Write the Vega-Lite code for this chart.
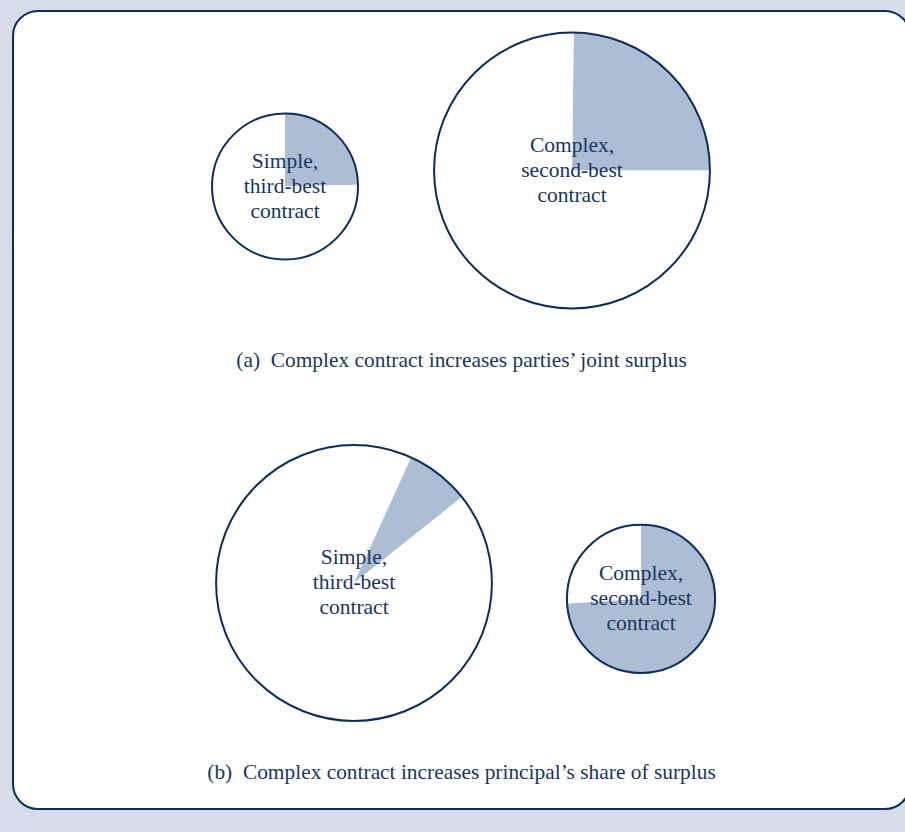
{
  "$schema": "https://vega.github.io/schema/vega-lite/v6.json",
  "width": 897,
  "height": 798,
  "autosize": {"type": "none"},
  "padding": {"left": 13, "top": 11, "right": -5, "bottom": 23},
  "background": "#d6dde9",
  "config": {
    "view": {"fill": "#ffffff", "stroke": "#0c2e5a", "strokeWidth": 2, "cornerRadius": 25},
    "font": "Liberation Serif"
  },
  "datasets": {
    "slices": [
      {"panel": "a", "contract": "Simple", "surplus": 1.0, "share": "principal", "start": 0, "end": 24.6},
      {"panel": "a", "contract": "Simple", "surplus": 1.0, "share": "agent", "start": 24.6, "end": 100},
      {"panel": "a", "contract": "Complex", "surplus": 3.57, "share": "principal", "start": 0.2, "end": 25},
      {"panel": "a", "contract": "Complex", "surplus": 3.57, "share": "agent", "start": 25, "end": 100.2},
      {"panel": "b", "contract": "Simple", "surplus": 3.57, "share": "agent", "start": 0, "end": 6.8},
      {"panel": "b", "contract": "Simple", "surplus": 3.57, "share": "principal", "start": 6.8, "end": 14.3},
      {"panel": "b", "contract": "Simple", "surplus": 3.57, "share": "agent", "start": 14.3, "end": 100},
      {"panel": "b", "contract": "Complex", "surplus": 1.03, "share": "principal", "start": 0, "end": 74},
      {"panel": "b", "contract": "Complex", "surplus": 1.03, "share": "agent", "start": 74, "end": 100}
    ],
    "pies": [
      {"panel": "a", "contract": "Simple", "surplus": 1.0, "label": "Simple,\nthird-best\ncontract"},
      {"panel": "a", "contract": "Complex", "surplus": 3.57, "label": "Complex,\nsecond-best\ncontract"},
      {"panel": "b", "contract": "Simple", "surplus": 3.57, "label": "Simple,\nthird-best\ncontract"},
      {"panel": "b", "contract": "Complex", "surplus": 1.03, "label": "Complex,\nsecond-best\ncontract"}
    ],
    "captions": [
      {"panel": "a", "caption": "(a)\u2002Complex contract increases parties\u2019 joint surplus"},
      {"panel": "b", "caption": "(b)\u2002Complex contract increases principal\u2019s share of surplus"}
    ]
  },
  "encoding": {
    "y": {"field": "panel", "type": "nominal", "scale": {"type": "point", "domain": ["a", "b"], "range": [159.5, 572], "padding": 0}, "axis": null}
  },
  "layer": [
    {
      "data": {"name": "slices"},
      "mark": {"type": "arc", "stroke": null},
      "encoding": {
        "x": {"field": "contract", "type": "nominal", "scale": {"type": "point", "domain": ["Simple", "Complex"], "range": [272, 559], "padding": 0}, "axis": null},
        "xOffset": {"field": "panel", "type": "nominal", "scale": {"type": "point", "domain": ["a", "b"], "range": [0, 69], "padding": 0}},
        "yOffset": {"field": "surplus", "type": "quantitative", "scale": {"domain": [1, 3.57], "range": [16, 0], "zero": false}},
        "theta": {"field": "start", "type": "quantitative", "scale": {"domain": [0, 100], "range": [0, 6.283185307179586]}},
        "theta2": {"field": "end"},
        "radius": {"field": "surplus", "type": "quantitative", "stack": null, "scale": {"type": "sqrt", "domain": [0, 4], "range": [0, 146], "zero": true}},
        "color": {"field": "share", "type": "nominal", "scale": {"domain": ["principal", "agent"], "range": ["#adbdd3", "#ffffff"]}, "legend": null}
      }
    },
    {
      "data": {"name": "pies"},
      "mark": {"type": "arc", "theta": 0, "theta2": 6.2832, "filled": false, "fill": null, "stroke": "#0c2e5a", "strokeWidth": 2},
      "encoding": {
        "x": {"field": "contract", "type": "nominal", "scale": {"type": "point", "domain": ["Simple", "Complex"], "range": [272, 559], "padding": 0}, "axis": null},
        "xOffset": {"field": "panel", "type": "nominal", "scale": {"type": "point", "domain": ["a", "b"], "range": [0, 69], "padding": 0}},
        "yOffset": {"field": "surplus", "type": "quantitative", "scale": {"domain": [1, 3.57], "range": [16, 0], "zero": false}},
        "radius": {"field": "surplus", "type": "quantitative", "stack": null, "scale": {"type": "sqrt", "domain": [0, 4], "range": [0, 146], "zero": true}}
      }
    },
    {
      "data": {"name": "pies"},
      "mark": {"type": "text", "lineBreak": "\n", "fontSize": 21.5, "lineHeight": 25, "align": "center", "baseline": "middle", "dy": -25, "color": "#17375e"},
      "encoding": {
        "x": {"field": "contract", "type": "nominal", "scale": {"type": "point", "domain": ["Simple", "Complex"], "range": [272, 559], "padding": 0}, "axis": null},
        "xOffset": {"field": "panel", "type": "nominal", "scale": {"type": "point", "domain": ["a", "b"], "range": [0, 69], "padding": 0}},
        "yOffset": {"field": "surplus", "type": "quantitative", "scale": {"domain": [1, 3.57], "range": [16, 0], "zero": false}},
        "text": {"field": "label"}
      }
    },
    {
      "data": {"name": "captions"},
      "mark": {"type": "text", "fontSize": 21.4, "align": "center", "baseline": "middle", "dy": 190, "color": "#17375e"},
      "encoding": {
        "text": {"field": "caption"}
      }
    }
  ]
}
